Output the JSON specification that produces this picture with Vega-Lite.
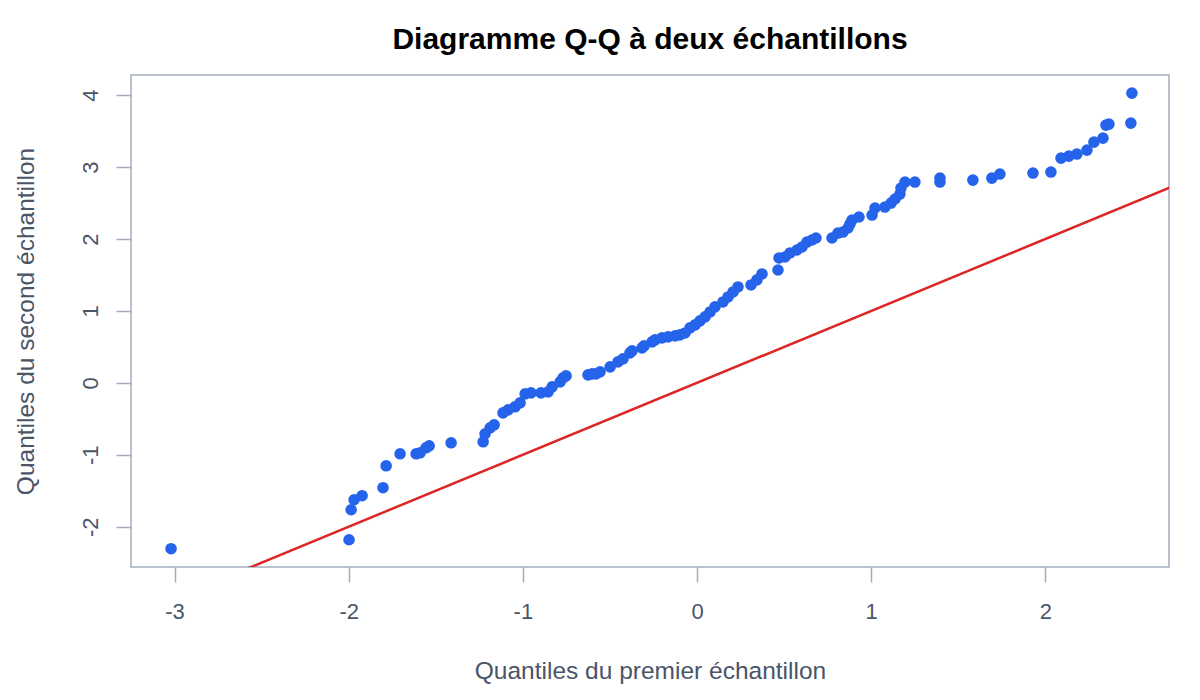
{
  "$schema": "https://vega.github.io/schema/vega-lite/v6.json",
  "width": 1038,
  "height": 492,
  "autosize": {"type": "none"},
  "padding": {"left": 131, "top": 75, "right": 31, "bottom": 133},
  "background": "white",
  "config": {
    "font": "Liberation Sans",
    "view": {"stroke": "#a3adbd", "strokeWidth": 1.5},
    "axis": {
      "grid": false,
      "domain": false,
      "tickColor": "#a3adbd",
      "tickWidth": 1.5,
      "tickSize": 15,
      "labelColor": "#4a5568",
      "labelFontSize": 22,
      "titleColor": "#4a5568",
      "titleFontSize": 24.5,
      "titleFontWeight": "normal",
      "labelFont": "Liberation Sans",
      "titleFont": "Liberation Sans",
      "labelExpr": "'' + datum.value"
    }
  },
  "title": {
    "text": "Diagramme Q-Q à deux échantillons",
    "fontSize": 30,
    "fontWeight": "bold",
    "color": "#000000",
    "anchor": "middle",
    "offset": 20
  },
  "datasets": {
    "qq": [
      {"x": -3.020, "y": -2.306}, {"x": -1.998, "y": -2.181}, {"x": -1.986, "y": -1.764},
      {"x": -1.969, "y": -1.625}, {"x": -1.923, "y": -1.569}, {"x": -1.803, "y": -1.458},
      {"x": -1.785, "y": -1.153}, {"x": -1.705, "y": -0.986}, {"x": -1.613, "y": -0.986},
      {"x": -1.590, "y": -0.972}, {"x": -1.556, "y": -0.903}, {"x": -1.538, "y": -0.875},
      {"x": -1.412, "y": -0.833}, {"x": -1.228, "y": -0.819}, {"x": -1.217, "y": -0.708},
      {"x": -1.188, "y": -0.625}, {"x": -1.165, "y": -0.583}, {"x": -1.114, "y": -0.417},
      {"x": -1.085, "y": -0.375}, {"x": -1.045, "y": -0.333}, {"x": -1.016, "y": -0.278},
      {"x": -0.987, "y": -0.153}, {"x": -0.953, "y": -0.139}, {"x": -0.896, "y": -0.139},
      {"x": -0.855, "y": -0.125}, {"x": -0.832, "y": -0.056}, {"x": -0.786, "y": 0.014},
      {"x": -0.769, "y": 0.069}, {"x": -0.752, "y": 0.097}, {"x": -0.626, "y": 0.111},
      {"x": -0.603, "y": 0.125}, {"x": -0.580, "y": 0.125}, {"x": -0.557, "y": 0.153},
      {"x": -0.499, "y": 0.222}, {"x": -0.454, "y": 0.292}, {"x": -0.425, "y": 0.333},
      {"x": -0.385, "y": 0.417}, {"x": -0.373, "y": 0.444}, {"x": -0.316, "y": 0.486},
      {"x": -0.304, "y": 0.514}, {"x": -0.258, "y": 0.569}, {"x": -0.241, "y": 0.597},
      {"x": -0.201, "y": 0.625}, {"x": -0.166, "y": 0.639}, {"x": -0.126, "y": 0.653},
      {"x": -0.098, "y": 0.667}, {"x": -0.069, "y": 0.694}, {"x": -0.040, "y": 0.764},
      {"x": -0.011, "y": 0.806}, {"x": 0.017, "y": 0.861}, {"x": 0.046, "y": 0.917},
      {"x": 0.075, "y": 0.986}, {"x": 0.103, "y": 1.056}, {"x": 0.149, "y": 1.125},
      {"x": 0.178, "y": 1.194}, {"x": 0.207, "y": 1.264}, {"x": 0.235, "y": 1.333},
      {"x": 0.310, "y": 1.361}, {"x": 0.344, "y": 1.431}, {"x": 0.373, "y": 1.514},
      {"x": 0.465, "y": 1.569}, {"x": 0.471, "y": 1.736}, {"x": 0.505, "y": 1.750},
      {"x": 0.534, "y": 1.806}, {"x": 0.574, "y": 1.847}, {"x": 0.603, "y": 1.889},
      {"x": 0.631, "y": 1.958}, {"x": 0.660, "y": 1.986}, {"x": 0.683, "y": 2.014},
      {"x": 0.775, "y": 2.014}, {"x": 0.809, "y": 2.083}, {"x": 0.838, "y": 2.097},
      {"x": 0.867, "y": 2.153}, {"x": 0.878, "y": 2.208}, {"x": 0.890, "y": 2.264},
      {"x": 0.930, "y": 2.306}, {"x": 1.005, "y": 2.333}, {"x": 1.022, "y": 2.431},
      {"x": 1.079, "y": 2.444}, {"x": 1.114, "y": 2.500}, {"x": 1.137, "y": 2.556},
      {"x": 1.165, "y": 2.625}, {"x": 1.171, "y": 2.708}, {"x": 1.194, "y": 2.792},
      {"x": 1.251, "y": 2.792}, {"x": 1.395, "y": 2.792}, {"x": 1.395, "y": 2.847},
      {"x": 1.584, "y": 2.819}, {"x": 1.693, "y": 2.847}, {"x": 1.739, "y": 2.903},
      {"x": 1.929, "y": 2.917}, {"x": 2.032, "y": 2.931}, {"x": 2.090, "y": 3.125},
      {"x": 2.135, "y": 3.153}, {"x": 2.181, "y": 3.181}, {"x": 2.239, "y": 3.236},
      {"x": 2.279, "y": 3.347}, {"x": 2.331, "y": 3.403}, {"x": 2.348, "y": 3.583},
      {"x": 2.365, "y": 3.597}, {"x": 2.491, "y": 3.611}, {"x": 2.497, "y": 4.028}
    ],
    "ref": [
      {"x": -3.4, "y": -3.4},
      {"x": 2.9, "y": 2.9}
    ]
  },
  "layer": [
    {
      "data": {"name": "ref"},
      "mark": {"type": "line", "color": "#dc2626", "strokeWidth": 2.5, "clip": true},
      "encoding": {
        "x": {"field": "x", "type": "quantitative"},
        "y": {"field": "y", "type": "quantitative"}
      }
    },
    {
      "data": {"name": "qq"},
      "mark": {"type": "circle", "color": "#2563eb", "opacity": 1, "size": 135},
      "encoding": {
        "x": {
          "field": "x",
          "type": "quantitative",
          "scale": {"domain": [-3.25, 2.71], "nice": false, "zero": false},
          "axis": {
            "values": [-3, -2, -1, 0, 1, 2],
            "labelPadding": 19,
            "titlePadding": 37,
            "title": "Quantiles du premier échantillon"
          }
        },
        "y": {
          "field": "y",
          "type": "quantitative",
          "scale": {"domain": [-2.56, 4.28], "nice": false, "zero": false},
          "axis": {
            "values": [-2, -1, 0, 1, 2, 3, 4],
            "labelAngle": -90,
            "labelAlign": "center",
            "labelBaseline": "bottom",
            "labelPadding": 14,
            "titlePadding": 41,
            "title": "Quantiles du second échantillon"
          }
        }
      }
    }
  ]
}
